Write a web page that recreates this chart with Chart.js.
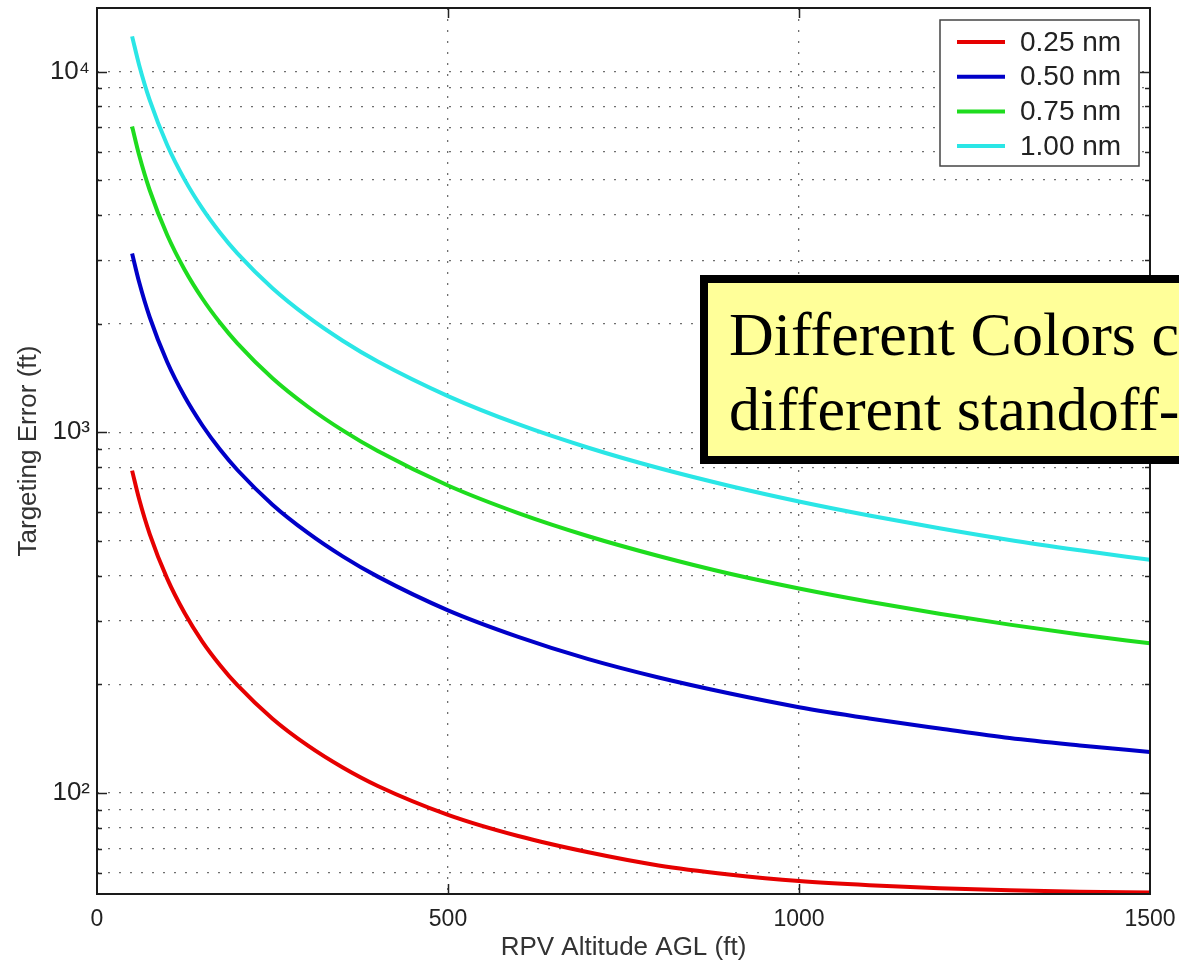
<!DOCTYPE html>
<html>
<head>
<meta charset="utf-8">
<script src="https://cdn.jsdelivr.net/npm/chart.js@4.4.1/dist/chart.umd.min.js"></script>
<style>
html, body { margin: 0; padding: 0; background: #fff; }
#wrap { width: 1179px; height: 965px; }
</style>
</head>
<body>
<div id="wrap"><canvas id="errChart" width="1179" height="965"></canvas></div>
<script>
// RPV altitude (ft) sample points
const altitude = [50, 60, 75, 100, 125, 150, 175, 200, 250, 300, 350, 400, 500, 600, 700, 800, 900, 1000, 1100, 1200, 1300, 1400, 1500];

// targeting error (ft), one list per standoff range
const err025 = [783, 653, 523, 393, 315, 263, 226.5, 199, 160.7, 135.5, 117.7, 104.6, 87, 76, 68.5, 63, 59.5, 57, 55.5, 54.5, 53.8, 53.3, 53.0];
const err050 = [3130, 2609, 2087, 1566, 1254, 1046, 897, 786, 630, 527, 453, 398, 321, 271, 235, 209, 189, 173, 161, 151, 142, 135.5, 130];
const err075 = [7041, 5868, 4695, 3522, 2818, 2349, 2015, 1764, 1412, 1179, 1012, 887, 712, 597, 515, 454, 406, 369, 339, 314, 293, 275, 260];
const err100 = [12516, 10431, 8345, 6259, 5008, 4174, 3579, 3132, 2507, 2091, 1794, 1571, 1260, 1053, 906, 796, 711, 643, 588, 542, 503, 471, 443];

const seriesLabels = ['0.25 nm', '0.50 nm', '0.75 nm', '1.00 nm'];
const seriesColors = ['#e60000', '#0000c8', '#1edc1e', '#2ae6e6'];

// axis ticks
const yTicks = [60, 70, 80, 90, 100, 200, 300, 400, 500, 600, 700, 800, 900,
                1000, 2000, 3000, 4000, 5000, 6000, 7000, 8000, 9000, 10000];
const yTickLabels = { 100: '10²', 1000: '10³', 10000: '10⁴' };

const noteLines = ['Different Colors correspond to', 'different standoff-ranges'];

const allSeries = [err025, err050, err075, err100];

function isDecade(v) {
    const l = Math.log10(v);
    return Math.abs(l - Math.round(l)) < 1e-9;
}

// box, inward ticks, legend and note box
const framePlugin = {
    id: 'frame',
    afterDatasetsDraw(chart) {
        const { ctx, chartArea: a, scales } = chart;
        const x = scales.x, y = scales.y;
        ctx.save();

        // inward tick marks
        ctx.strokeStyle = '#222';
        ctx.lineWidth = 1.5;
        ctx.beginPath();
        y.ticks.forEach(t => {
            const py = Math.round(y.getPixelForValue(t.value)) + 0.5;
            const len = isDecade(t.value) ? 10 : 5;
            ctx.moveTo(a.left, py); ctx.lineTo(a.left + len, py);
            ctx.moveTo(a.right, py); ctx.lineTo(a.right - len, py);
        });
        x.ticks.forEach(t => {
            if (t.value <= x.min || t.value >= x.max) return;
            const px = Math.round(x.getPixelForValue(t.value)) + 0.5;
            ctx.moveTo(px, a.bottom); ctx.lineTo(px, a.bottom - 10);
            ctx.moveTo(px, a.top); ctx.lineTo(px, a.top + 10);
        });
        ctx.stroke();

        // plot box
        ctx.strokeStyle = '#1a1a1a';
        ctx.lineWidth = 2;
        ctx.strokeRect(a.left, a.top, a.right - a.left, a.bottom - a.top);

        // legend
        ctx.fillStyle = '#fff';
        ctx.fillRect(940, 20, 199, 146);
        ctx.strokeStyle = '#444';
        ctx.lineWidth = 1.5;
        ctx.strokeRect(940, 20, 199, 146);
        ctx.font = '28px "Liberation Sans", Arial, sans-serif';
        ctx.textBaseline = 'middle';
        ctx.textAlign = 'left';
        chart.data.datasets.forEach((ds, i) => {
            const ry = 42 + i * 34.7;
            ctx.strokeStyle = ds.borderColor;
            ctx.lineWidth = 4;
            ctx.beginPath();
            ctx.moveTo(957, ry); ctx.lineTo(1005, ry);
            ctx.stroke();
            ctx.fillStyle = '#222';
            ctx.fillText(ds.label, 1020, ry + 1);
        });

        // note box
        ctx.fillStyle = '#ffff99';
        ctx.fillRect(704, 279, 600, 181);
        ctx.strokeStyle = '#000';
        ctx.lineWidth = 8;
        ctx.strokeRect(704, 279, 600, 181);
        ctx.fillStyle = '#000';
        ctx.font = '62px "Liberation Serif", "Times New Roman", serif';
        ctx.textBaseline = 'alphabetic';
        ctx.fillText(noteLines[0], 729, 355);
        ctx.fillText(noteLines[1], 729, 430);

        ctx.restore();
    }
};

const ctx = document.getElementById('errChart').getContext('2d');
const errChart = new Chart(ctx, {
    type: 'line',
    data: {
        datasets: allSeries.map((vals, i) => ({
            label: seriesLabels[i],
            data: altitude.map((h, j) => ({ x: h, y: vals[j] })),
            borderColor: seriesColors[i],
            borderWidth: 4,
            pointRadius: 0,
            fill: false,
            cubicInterpolationMode: 'monotone',
        })),
    },
    options: {
        responsive: false,
        animation: false,
        layout: { padding: { top: 8, right: 29, left: 0, bottom: 0 } },
        plugins: {
            legend: { display: false },
            tooltip: { enabled: false },
        },
        scales: {
            x: {
                type: 'linear',
                min: 0,
                max: 1500,
                afterFit: s => { s.height = 71; s.paddingLeft = 0; s.paddingRight = 0; },
                ticks: {
                    stepSize: 500,
                    autoSkip: false,
                    maxRotation: 0,
                    padding: 12,
                    color: '#222',
                    font: { family: '"Liberation Sans", Arial, sans-serif', size: 23 },
                    callback: v => String(v),
                },
                grid: { color: '#6f6f6f', lineWidth: 1.3, drawTicks: false },
                border: { display: false, dash: [2, 9] },
                title: {
                    display: true,
                    text: 'RPV Altitude AGL (ft)',
                    color: '#333',
                    padding: { top: 0, bottom: 2 },
                    font: { family: '"Liberation Sans", Arial, sans-serif', size: 26 },
                },
            },
            y: {
                type: 'logarithmic',
                min: 52.5,
                max: 15000,
                afterFit: s => { s.width = 97; s.paddingTop = 0; s.paddingBottom = 0; },
                afterBuildTicks: s => { s.ticks = yTicks.map(v => ({ value: v })); },
                ticks: {
                    autoSkip: false,
                    padding: 7,
                    color: '#222',
                    font: { family: '"Liberation Sans", Arial, sans-serif', size: 26 },
                    callback: v => yTickLabels[v] || '',
                },
                grid: { color: '#6f6f6f', lineWidth: 1.3, drawTicks: false },
                border: { display: false, dash: [2, 9] },
                title: {
                    display: true,
                    text: 'Targeting Error (ft)',
                    color: '#333',
                    padding: { top: 13, bottom: 0 },
                    font: { family: '"Liberation Sans", Arial, sans-serif', size: 26 },
                },
            },
        },
    },
    plugins: [framePlugin],
});
</script>
</body>
</html>
